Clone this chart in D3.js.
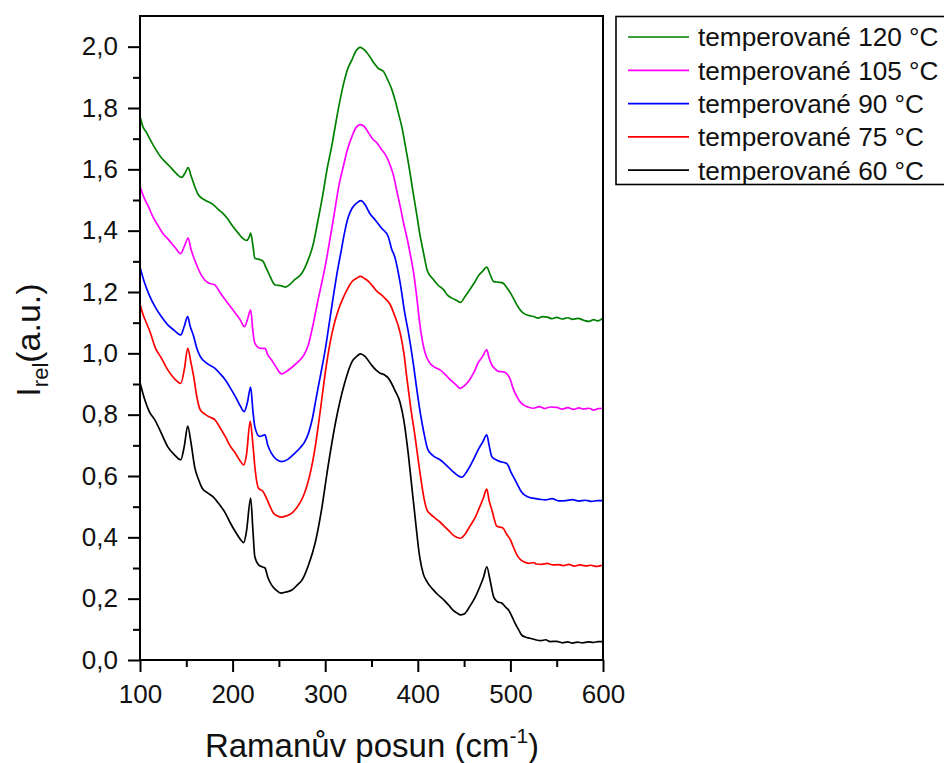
<!DOCTYPE html>
<html>
<head>
<meta charset="utf-8">
<script src="https://cdn.jsdelivr.net/npm/d3@7"></script>
<style>
  body { margin: 0; background: #fff; }
  svg { display: block; font-family: "Liberation Sans", Arial, sans-serif; }
</style>
</head>
<body>
<svg id="root" width="944" height="763"></svg>
<script>
// series: [Raman shift, I_rel]
const s120 = [[100,1.773],[103,1.74],[107,1.72],[111,1.697],[116,1.67],[122,1.642],[127,1.625],[132,1.61],[138,1.59],[145,1.574],[149,1.59],[152,1.606],[155,1.58],[159,1.545],[163,1.517],[170,1.5],[179,1.485],[186,1.465],[190,1.455],[194,1.441],[200,1.415],[206,1.392],[211,1.375],[215,1.368],[218,1.38],[219.5,1.392],[222,1.35],[224,1.31],[230,1.305],[233,1.3],[236,1.28],[239,1.261],[246,1.223],[253,1.22],[257,1.216],[262,1.225],[267,1.24],[275,1.262],[281,1.3],[287,1.355],[292,1.43],[297,1.51],[302,1.6],[307,1.675],[314,1.794],[320,1.881],[324,1.925],[329,1.958],[333,1.985],[338,1.998],[342,1.99],[348,1.968],[353,1.945],[357,1.93],[363,1.919],[367,1.895],[372,1.86],[376,1.82],[379,1.784],[383,1.735],[386,1.686],[391,1.6],[395,1.523],[399,1.45],[402,1.392],[405,1.345],[408,1.3],[410,1.272],[417,1.24],[422,1.222],[428,1.207],[432,1.19],[437,1.18],[442,1.172],[446,1.166],[451,1.185],[456,1.207],[461,1.23],[465,1.251],[470,1.268],[474.5,1.281],[478,1.258],[482,1.234],[487,1.232],[492,1.229],[496,1.215],[500,1.197],[504,1.175],[507,1.158],[511,1.14],[514,1.131],[519,1.124],[525,1.12],[530,1.115],[535,1.12],[540,1.118],[545,1.113],[550,1.117],[556,1.112],[562,1.116],[567,1.111],[573,1.114],[579,1.108],[585,1.104],[590,1.11],[594,1.106],[600,1.115]];

const s105 = [[100,1.545],[104,1.51],[109,1.479],[114,1.445],[120,1.414],[125,1.39],[131,1.37],[138,1.345],[144,1.325],[148,1.35],[152,1.376],[155,1.34],[159,1.305],[163,1.275],[167,1.251],[174,1.229],[181,1.223],[186,1.2],[192,1.175],[197,1.155],[203,1.131],[208,1.11],[213,1.087],[216,1.11],[219.5,1.142],[222,1.07],[224,1.033],[230,1.016],[235,1.016],[238,0.995],[242,0.979],[247,0.955],[253,0.933],[260,0.945],[267,0.962],[273,0.979],[278,1.0],[282,1.03],[287,1.095],[292,1.17],[297,1.24],[301,1.3],[305,1.37],[310,1.46],[315,1.55],[320,1.615],[324,1.665],[329,1.708],[333,1.735],[338,1.746],[342,1.74],[347,1.718],[351,1.7],[356,1.686],[360,1.668],[365,1.648],[370,1.615],[374,1.577],[378,1.52],[381,1.479],[385,1.42],[388,1.381],[393,1.305],[395,1.272],[399,1.18],[402,1.099],[405,1.04],[408,1.0],[413,0.968],[418,0.955],[424,0.946],[430,0.93],[435,0.914],[441,0.898],[446,0.886],[451,0.896],[456,0.914],[461,0.94],[465,0.968],[470,0.99],[474.5,1.011],[477,0.985],[480,0.962],[484,0.948],[487,0.941],[491,0.94],[494,0.938],[497,0.93],[500,0.914],[503,0.885],[507,0.859],[511,0.84],[514,0.832],[519,0.825],[525,0.821],[531,0.826],[537,0.82],[543,0.825],[550,0.824],[556,0.818],[562,0.823],[568,0.817],[574,0.822],[579,0.818],[585,0.821],[590,0.815],[595,0.82],[600,0.821]];

const s90 = [[100,1.282],[105,1.229],[110,1.19],[116,1.153],[123,1.12],[130,1.093],[137,1.075],[144,1.06],[148,1.09],[151.5,1.12],[154,1.09],[158,1.055],[161,1.02],[165,0.99],[172,0.968],[181,0.951],[186,0.935],[192,0.914],[197,0.89],[203,0.859],[208,0.83],[212.5,0.81],[216,0.84],[219.5,0.89],[222,0.81],[224,0.761],[229,0.729],[235,0.734],[238,0.7],[242,0.674],[247,0.655],[253,0.647],[260,0.655],[267,0.674],[273,0.692],[278,0.712],[282,0.74],[286,0.785],[290,0.85],[295,0.93],[300,1.011],[304,1.09],[309,1.19],[313,1.265],[317,1.33],[321,1.395],[325,1.445],[329,1.473],[334,1.49],[338.5,1.498],[343,1.485],[348,1.457],[354,1.435],[361,1.408],[368,1.381],[372,1.338],[375,1.316],[381,1.229],[386,1.13],[390,1.066],[395,0.97],[399,0.881],[403,0.8],[406,0.75],[411,0.685],[417,0.665],[424,0.653],[431,0.635],[438,0.614],[443,0.602],[447.5,0.596],[453,0.615],[460,0.653],[466,0.69],[470,0.71],[474.5,0.734],[477,0.7],[480,0.663],[485,0.652],[489,0.647],[496,0.641],[501,0.61],[507,0.576],[512,0.548],[518,0.533],[524,0.528],[532,0.524],[538,0.522],[545,0.526],[552,0.519],[560,0.52],[567,0.523],[574,0.518],[581,0.521],[588,0.517],[594,0.52],[600,0.52]];

const s75 = [[100,1.16],[104,1.12],[107,1.099],[112,1.06],[116,1.022],[123,0.985],[130,0.946],[137,0.918],[144,0.902],[148,0.95],[151.5,1.016],[155,0.97],[158,0.924],[161,0.865],[165,0.816],[170,0.802],[174,0.794],[181,0.783],[186,0.76],[192,0.729],[197,0.7],[203,0.674],[208,0.65],[212,0.636],[215,0.67],[219,0.778],[222,0.7],[224,0.631],[228,0.56],[233,0.549],[239,0.511],[244,0.479],[248,0.47],[252,0.466],[258,0.47],[264,0.479],[270,0.5],[275,0.525],[280,0.565],[285,0.625],[290,0.71],[295,0.82],[300,0.935],[305,1.03],[309,1.087],[314,1.14],[320,1.185],[325,1.215],[329,1.234],[334,1.245],[338,1.251],[342,1.245],[347,1.234],[351,1.22],[356,1.202],[361,1.19],[366,1.175],[370,1.16],[374,1.131],[381,1.066],[385,1.0],[388,0.924],[392,0.83],[397,0.729],[401,0.64],[404,0.577],[407,0.522],[410,0.489],[414,0.475],[419,0.462],[424,0.45],[429,0.435],[434,0.42],[438,0.408],[442,0.4],[446,0.397],[451,0.41],[456,0.435],[462,0.465],[467,0.5],[471,0.53],[474.5,0.557],[477,0.52],[480,0.489],[483,0.455],[485,0.437],[489,0.433],[492,0.43],[496,0.41],[500,0.392],[503,0.37],[507,0.343],[510,0.33],[514,0.321],[520,0.315],[525,0.318],[528,0.313],[534,0.312],[540,0.315],[546,0.31],[552,0.311],[557,0.308],[563,0.312],[569,0.306],[575,0.31],[581,0.307],[587,0.309],[593,0.305],[600,0.31]];

const s60 = [[100,0.905],[105,0.85],[110,0.81],[116,0.783],[123,0.74],[130,0.695],[137,0.67],[144,0.653],[148,0.7],[151.5,0.763],[155,0.71],[159,0.63],[163,0.59],[167,0.561],[173,0.545],[179,0.532],[185,0.51],[192,0.48],[197,0.45],[203,0.418],[208,0.395],[212,0.383],[215,0.42],[219.5,0.528],[222,0.42],[224,0.337],[228,0.31],[231,0.305],[235,0.3],[238,0.27],[242,0.245],[247,0.228],[252,0.218],[258,0.222],[264,0.228],[270,0.245],[275,0.261],[282,0.31],[289,0.38],[296,0.489],[303,0.63],[311,0.772],[321,0.903],[329,0.973],[334,0.99],[338,0.998],[343,0.99],[350,0.962],[355,0.945],[359,0.936],[364,0.93],[368,0.92],[372,0.9],[375,0.881],[381,0.838],[385,0.78],[389,0.69],[393,0.58],[397,0.468],[402,0.337],[406,0.28],[410,0.255],[417,0.228],[422,0.212],[428,0.196],[433,0.18],[438,0.163],[443,0.152],[446,0.147],[450,0.15],[456,0.174],[462,0.205],[467,0.239],[471,0.27],[474.5,0.304],[478,0.261],[482,0.205],[486,0.19],[491,0.185],[495,0.172],[498,0.163],[502,0.14],[505,0.12],[509,0.098],[512,0.082],[516,0.075],[521,0.071],[527,0.066],[533,0.063],[538,0.066],[543,0.06],[550,0.061],[556,0.056],[562,0.059],[567,0.055],[572,0.058],[578,0.056],[584,0.059],[590,0.057],[595,0.06],[600,0.06]];

const seriesList = [s120, s105, s90, s75, s60];
const labels = ["temperované 120 °C", "temperované 105 °C", "temperované 90 °C", "temperované 75 °C", "temperované 60 °C"];
const colors = ["#008000", "#ff00ff", "#0000ff", "#ff0000", "#000000"];

const xTicks = [100, 200, 300, 400, 500, 600];
const xMinor = [150, 250, 350, 450, 550];
const yTicks = [0, 0.2, 0.4, 0.6, 0.8, 1.0, 1.2, 1.4, 1.6, 1.8, 2.0];
const yMinor = [0.1, 0.3, 0.5, 0.7, 0.9, 1.1, 1.3, 1.5, 1.7, 1.9];

const svg = d3.select("#root");

const plot = { left: 140, right: 603, top: 16, bottom: 660 };

const x = d3.scaleLinear().domain([100, 600]).range([plot.left, plot.right]);
const y = d3.scaleLinear().domain([0, 2.1]).range([plot.bottom, plot.top]);

const comma = (d) => d3.format(".1f")(d).replace(".", ",");

// curves
const line = d3.line()
    .x((d) => x(d[0]))
    .y((d) => y(d[1]))
    .curve(d3.curveMonotoneX);

svg.append("g")
    .selectAll("path")
    .data(seriesList)
    .join("path")
    .attr("d", line)
    .attr("fill", "none")
    .attr("stroke", (d, i) => colors[i])
    .attr("stroke-width", 1.7)
    .attr("stroke-linejoin", "round");

// frame
svg.append("rect")
    .attr("x", plot.left)
    .attr("y", plot.top)
    .attr("width", plot.right - plot.left)
    .attr("height", plot.bottom - plot.top)
    .attr("fill", "none")
    .attr("stroke", "#000")
    .attr("stroke-width", 2);

const styleAxis = (g) => {
    g.select(".domain").remove();
    g.selectAll(".tick line").attr("stroke-width", 2);
    g.selectAll("text").attr("font-size", 26).attr("fill", "#111");
};

svg.append("g")
    .attr("transform", `translate(0,${plot.bottom})`)
    .call(d3.axisBottom(x).tickValues(xTicks).tickSize(12).tickPadding(6).tickFormat(d3.format("d")))
    .call(styleAxis)
    .call((g) => g.selectAll("text").attr("dy", "0.98em"));

svg.append("g")
    .attr("transform", `translate(0,${plot.bottom})`)
    .call(d3.axisBottom(x).tickValues(xMinor).tickSize(7).tickFormat(""))
    .call(styleAxis);

svg.append("g")
    .attr("transform", `translate(${plot.left},0)`)
    .call(d3.axisLeft(y).tickValues(yTicks).tickSize(12).tickPadding(10).tickFormat(comma))
    .call(styleAxis);

svg.append("g")
    .attr("transform", `translate(${plot.left},0)`)
    .call(d3.axisLeft(y).tickValues(yMinor).tickSize(7).tickFormat(""))
    .call(styleAxis);

// axis titles
const xTitle = svg.append("text")
    .attr("x", 372)
    .attr("y", 757)
    .attr("text-anchor", "middle")
    .attr("font-size", 33)
    .attr("fill", "#111");
xTitle.append("tspan").text("Ramanův posun (cm");
xTitle.append("tspan").attr("font-size", 21).attr("dy", -14).text("-1");
xTitle.append("tspan").attr("dy", 14).text(")");

const yTitle = svg.append("text")
    .attr("transform", `translate(40,340) rotate(-90)`)
    .attr("text-anchor", "middle")
    .attr("font-size", 34)
    .attr("fill", "#111");
yTitle.append("tspan").text("I");
yTitle.append("tspan").attr("font-size", 22).attr("dy", 8).text("rel");
yTitle.append("tspan").attr("dy", -8).text("(a.u.)");

// legend
const legend = svg.append("g");
legend.append("rect")
    .attr("x", 616)
    .attr("y", 16.5)
    .attr("width", 360)
    .attr("height", 168)
    .attr("fill", "#fff")
    .attr("stroke", "#000")
    .attr("stroke-width", 1.6);

const items = legend.selectAll("g.item")
    .data(labels)
    .join("g")
    .attr("class", "item")
    .attr("transform", (d, i) => `translate(0,${37 + i * 33.3})`);

items.append("line")
    .attr("x1", 628)
    .attr("x2", 689)
    .attr("stroke", (d, i) => colors[i])
    .attr("stroke-width", 1.7);

items.append("text")
    .attr("x", 698)
    .attr("dy", "0.36em")
    .attr("font-size", 26.2)
    .attr("fill", "#111")
    .text((d) => d);
</script>
</body>
</html>
